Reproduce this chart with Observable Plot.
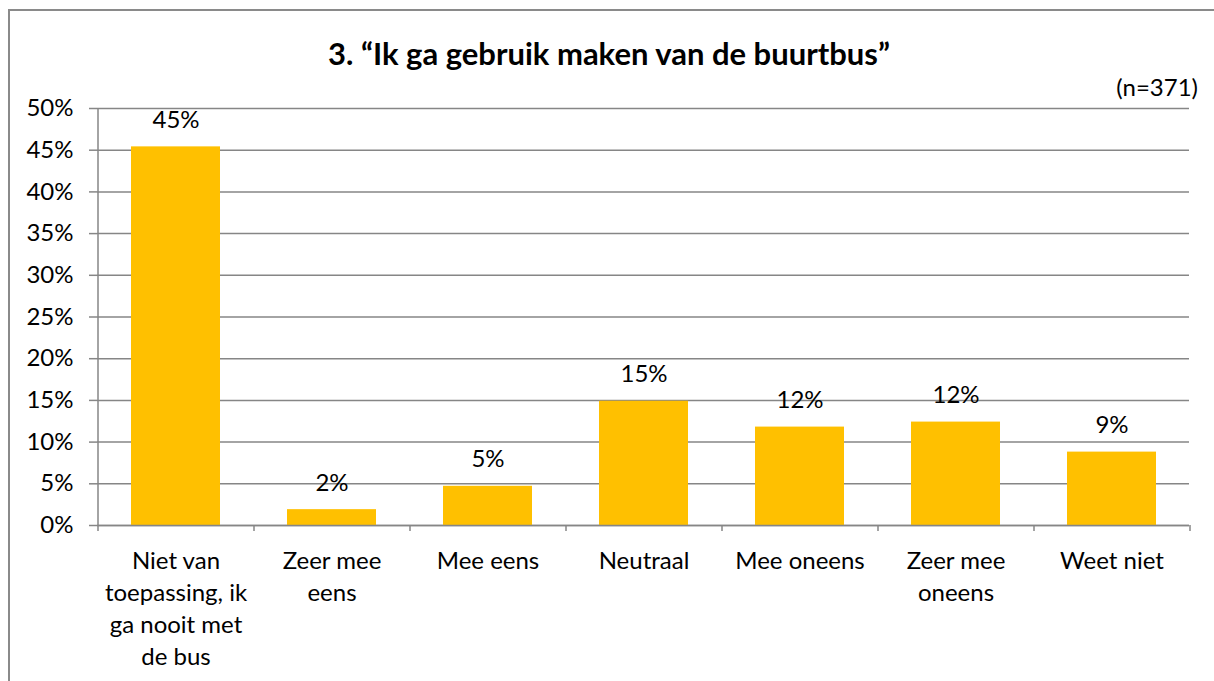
<!DOCTYPE html>
<html>
<head>
<meta charset="utf-8">
<script src="https://cdn.jsdelivr.net/npm/d3@7"></script>
<script src="https://cdn.jsdelivr.net/npm/@observablehq/plot@0.6"></script>
<style>
  body { margin: 0; background: #fff; }
  #wrap { position: relative; width: 1214px; height: 681px; overflow: hidden; font-family: Lato, "Open Sans", sans-serif; color: #000; }
  #frame { position: absolute; left: 8px; top: 9px; width: 1300px; height: 800px; border: 2px solid #8a8a8a; box-sizing: border-box; }
  #title { position: absolute; left: 0; top: 33px; width: 1218px; text-align: center; font-weight: bold; font-size: 31px; line-height: 40px; white-space: nowrap; }
  #n { position: absolute; right: 16px; top: 73px; font-size: 24px; line-height: 28px; }
  #chart { position: absolute; left: 0; top: 85px; }
</style>
</head>
<body>
<div id="wrap">
  <div id="frame"></div>
  <div id="title">3. “Ik ga gebruik maken van de buurtbus”</div>
  <div id="n">(n=371)</div>
  <div id="chart"></div>
</div>
<script>
const categories = ["Niet van toepassing, ik ga nooit met de bus", "Zeer mee eens", "Mee eens", "Neutraal", "Mee oneens", "Zeer mee oneens", "Weet niet"];
const tickLabels = ["Niet van\ntoepassing, ik\nga nooit met\nde bus", "Zeer mee\neens", "Mee eens", "Neutraal", "Mee oneens", "Zeer mee\noneens", "Weet niet"];
const values = [45.4, 1.9, 4.7, 14.9, 11.8, 12.4, 8.8];
const yTicks = [0, 5, 10, 15, 20, 25, 30, 35, 40, 45, 50];

const data = categories.map((c, i) => ({cat: c, value: values[i]}));

const W = 1214, H = 596, mL = 97, mR = 25, mT = 23, mB = 156;
const step = (W - mL - mR) / categories.length;
const grid = "#868686";
const fs = 24;

const chart = Plot.plot({
  width: W,
  height: H,
  marginLeft: mL,
  marginRight: mR,
  marginTop: mT,
  marginBottom: mB,
  style: { fontFamily: "Lato, 'Open Sans', sans-serif", fontSize: fs + "px", color: "#000", background: "transparent" },
  x: { domain: categories, paddingInner: 0.43, paddingOuter: 0.215, label: null },
  y: { domain: [0, 50], label: null },
  marks: [
    Plot.gridY(yTicks, { stroke: grid, strokeOpacity: 1, strokeWidth: 1.5 }),
    Plot.barY(data, { x: "cat", y: "value", fill: "#FFC000" }),
    Plot.ruleY([0], { stroke: grid, strokeWidth: 1.5 }),
    Plot.ruleX([categories[0]], { y1: 0, y2: 50, dx: -step / 2, stroke: grid, strokeWidth: 1.5 }),
    Plot.axisY(yTicks, { tickSize: 8, tickPadding: 16, tickFormat: d => d + "%", stroke: grid, strokeWidth: 1.5, fontSize: fs, fill: "#000", label: null }),
    Plot.axisX({ tickSize: 6, tickFormat: () => "", dx: -step / 2, stroke: grid, strokeWidth: 1.5, label: null }),
    Plot.axisX([categories[categories.length - 1]], { tickSize: 6, tickFormat: () => "", dx: step / 2, stroke: grid, strokeWidth: 1.5, label: null }),
    Plot.text(categories, { x: d => d, frameAnchor: "bottom", lineAnchor: "top", dy: 21, lineHeight: 1.333, text: (d, i) => tickLabels[i], fontSize: fs, fill: "#000" }),
    Plot.text(data, { x: "cat", y: "value", text: d => Math.round(d.value) + "%", lineAnchor: "bottom", dy: -19, fontSize: fs, fill: "#000" })
  ]
});
document.getElementById("chart").appendChild(chart);
</script>
</body>
</html>
